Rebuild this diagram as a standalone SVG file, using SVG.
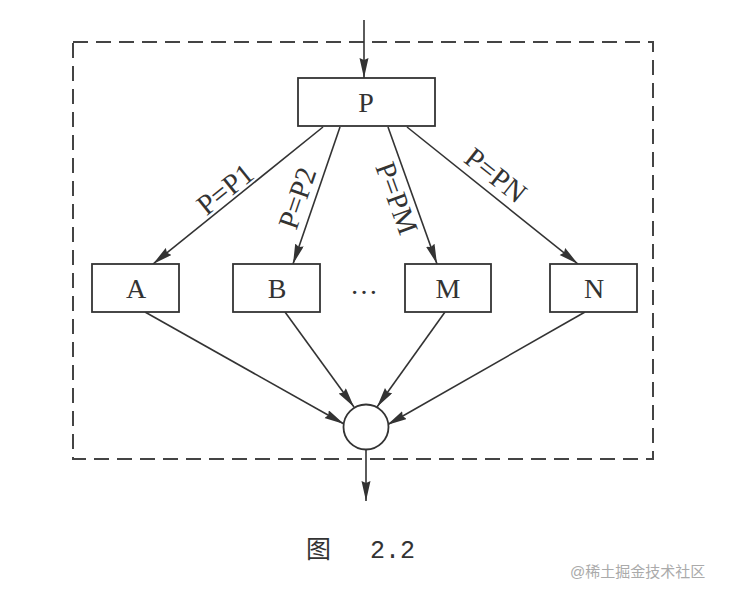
<svg xmlns="http://www.w3.org/2000/svg" width="730" height="594" viewBox="0 0 730 594">
<style>
  .box{fill:#fff;stroke:#333;stroke-width:1.8}
  .ln{fill:none;stroke:#333;stroke-width:1.6;marker-end:url(#ah)}
  .t{font-family:"Liberation Serif",serif;font-size:28px;fill:#333;text-anchor:middle}
  .lb{font-family:"Liberation Serif",serif;font-size:29px;fill:#333;text-anchor:middle;dominant-baseline:central}
</style>
<defs>
  <marker id="ah" markerUnits="userSpaceOnUse" markerWidth="22" markerHeight="10" refX="20" refY="4.5" orient="auto">
    <path d="M0,0 L20,4.5 L0,9 L2,4.5 z" fill="#333"/>
  </marker>
</defs>
<rect width="730" height="594" fill="#fff"/>
<rect id="frame" x="73" y="42" width="580" height="417" fill="none" stroke="#444" stroke-width="2" stroke-dasharray="15,8"/>
<g id="connectors">
  <line class="ln" x1="364" y1="20" x2="364" y2="78"/>
  <line class="ln" x1="323" y1="127" x2="153" y2="264"/>
  <line class="ln" x1="340" y1="127" x2="293" y2="264"/>
  <line class="ln" x1="388" y1="127" x2="437" y2="264"/>
  <line class="ln" x1="407" y1="127" x2="578" y2="264"/>
  <line class="ln" x1="145" y1="312" x2="344" y2="424"/>
  <line class="ln" x1="285" y1="312" x2="354" y2="407"/>
  <line class="ln" x1="445" y1="312" x2="377" y2="407"/>
  <line class="ln" x1="585" y1="312" x2="387" y2="425"/>
  <line class="ln" x1="366" y1="450" x2="366" y2="501"/>
  <text class="lb" transform="translate(225,189) rotate(-38.7)">P=P1</text>
  <text class="lb" transform="translate(297,198) rotate(-71)">P=P2</text>
  <text class="lb" transform="translate(397,198) rotate(70)">P=PM</text>
  <text class="lb" transform="translate(496,175) rotate(38.5)">P=PN</text>
</g>
<g id="P"><rect class="box" x="298" y="78" width="137" height="48"/><text class="t" x="366" y="112">P</text></g>
<g id="A"><rect class="box" x="92" y="264" width="87" height="48"/><text class="t" x="136" y="298">A</text></g>
<g id="B"><rect class="box" x="233" y="264" width="87" height="48"/><text class="t" x="277" y="298">B</text></g>
<g id="dots"><text class="t" x="364" y="294">…</text></g>
<g id="M"><rect class="box" x="405" y="264" width="86" height="48"/><text class="t" x="448" y="298">M</text></g>
<g id="N"><rect class="box" x="550" y="264" width="87" height="48"/><text class="t" x="594" y="298">N</text></g>
<g id="join"><circle cx="366" cy="427" r="22.5" fill="#fff" stroke="#333" stroke-width="1.8"/></g>
<g id="caption">
  <text x="306" y="558" font-family="'Noto Sans CJK SC',sans-serif" font-size="25" fill="#333">图</text>
  <text x="370" y="558" font-family="'Liberation Mono',monospace" font-size="25" fill="#333">2.2</text>
</g>
<text x="570" y="577" font-family="'Liberation Sans','Noto Sans CJK SC',sans-serif" font-size="15" fill="#aaa">@稀土掘金技术社区</text>
</svg>
